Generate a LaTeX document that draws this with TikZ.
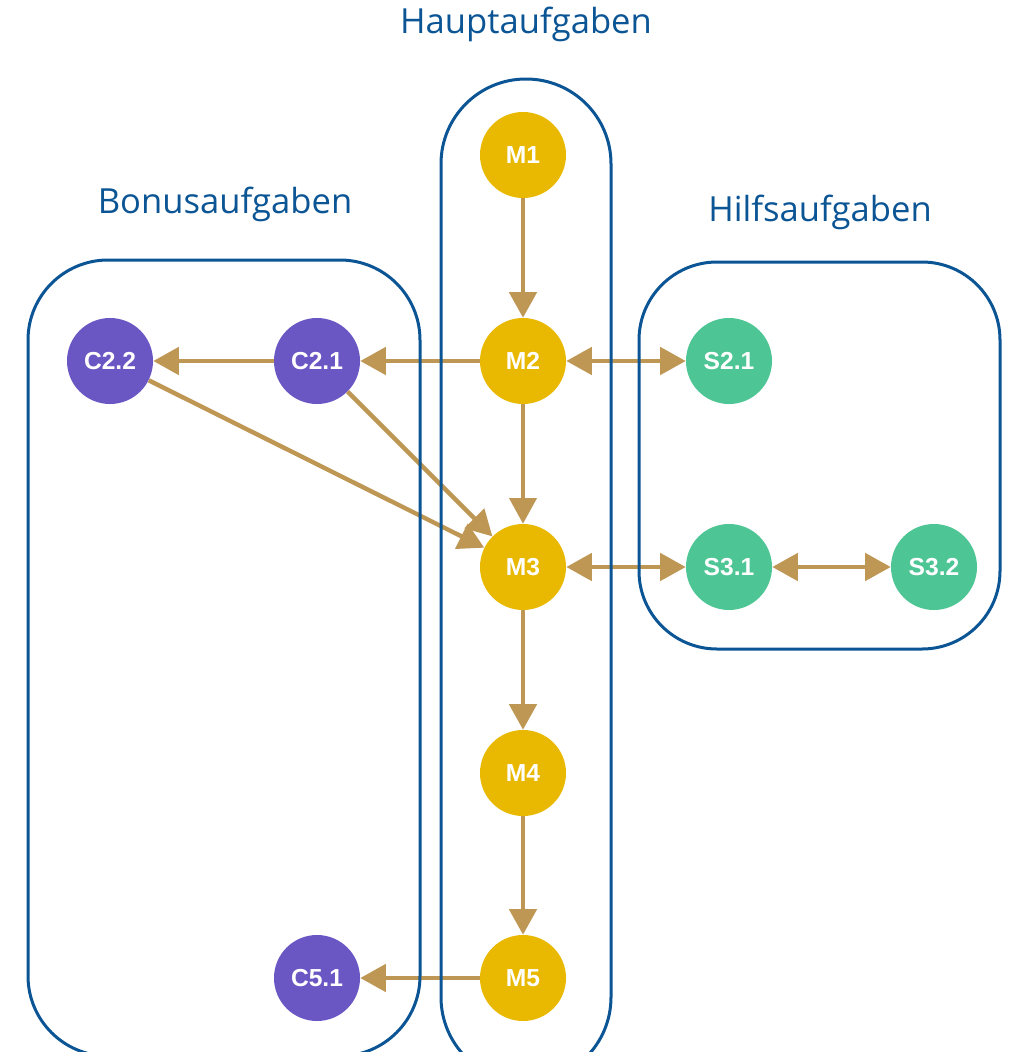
\documentclass[tikz,border=0pt]{standalone}
\usepackage{fontspec}
\usepackage{tikz}
\usetikzlibrary{arrows.meta}
\newfontfamily\titlefont{Open Sans}
\newfontfamily\taskfont{Liberation Sans}

\definecolor{mainyellow}{HTML}{E9B800}
\definecolor{bonuspurple}{HTML}{6A57C4}
\definecolor{helpgreen}{HTML}{4EC594}
\definecolor{linktan}{HTML}{BF9755}
\definecolor{frameblue}{HTML}{0B5595}

\tikzset{
    task/.style={circle, minimum size=2.15cm, inner sep=0pt, text=white,
        font=\taskfont\bfseries\fontsize{17.5}{20}\selectfont},
    maintask/.style={task, fill=mainyellow},
    bonustask/.style={task, fill=bonuspurple},
    helptask/.style={task, fill=helpgreen},
    link/.style={draw=linktan, line width=0.11cm,
        -{Triangle[length=0.64cm, width=0.68cm]}},
    twolink/.style={link, {Triangle[length=0.64cm, width=0.68cm]}-{Triangle[length=0.64cm, width=0.68cm]}},
    groupframe/.style={draw=frameblue, line width=0.075cm},
    grouptitle/.style={text=frameblue, font=\titlefont\fontsize{24.6}{30}\selectfont}
}

\begin{document}
\begin{tikzpicture}[x=0.025cm, y=-0.025cm]

    \useasboundingbox (0,0) rectangle (1009,1052);
    \clip (0,0) rectangle (1009,1052);

    % main line
    \node[maintask] (m1) at (523,155) {M1};
    \node[maintask] (m2) at (523,361) {M2};
    \node[maintask] (m3) at (523,567) {M3};
    \node[maintask] (m4) at (523,773) {M4};
    \node[maintask] (m5) at (523,978) {M5};

    % bonus
    \node[bonustask] (c21) at (317,361) {C2.1};
    \node[bonustask] (c22) at (110,361) {C2.2};
    \node[bonustask] (c51) at (317,978) {C5.1};

    % help
    \node[helptask] (s21) at (729,361) {S2.1};
    \node[helptask] (s31) at (729,567) {S3.1};
    \node[helptask] (s32) at (934,567) {S3.2};

    \draw[link] (m1) -- (m2);
    \draw[link, line width=0.08cm] (m2) -- (m3);
    \draw[link] (m3) -- (m4);
    \draw[link] (m4) -- (m5);

    \draw[link] (m2) -- (c21);
    \draw[link] (c21) -- (c22);
    \draw[link] (c21) -- (m3);
    \draw[link] (c22) -- (m3);
    \draw[link] (m5) -- (c51);

    \draw[twolink] (m2) -- (s21);
    \draw[twolink] (m3) -- (s31);
    \draw[twolink] (s31) -- (s32);

    % groups
    \draw[groupframe, rounded corners=2.12cm] (441,79) rectangle (611,1082);
    \draw[groupframe, rounded corners=2cm] (28,260) rectangle (420,1056);
    \draw[groupframe, rounded corners=1.95cm] (639,262) rectangle (1000,649);

    \node[grouptitle] (hauptlabel) at (526,24) {Hauptaufgaben};
    \node[grouptitle] (bonuslabel) at (225,204) {Bonusaufgaben};
    \node[grouptitle] (hilfslabel) at (820,212) {Hilfsaufgaben};

\end{tikzpicture}
\end{document}
